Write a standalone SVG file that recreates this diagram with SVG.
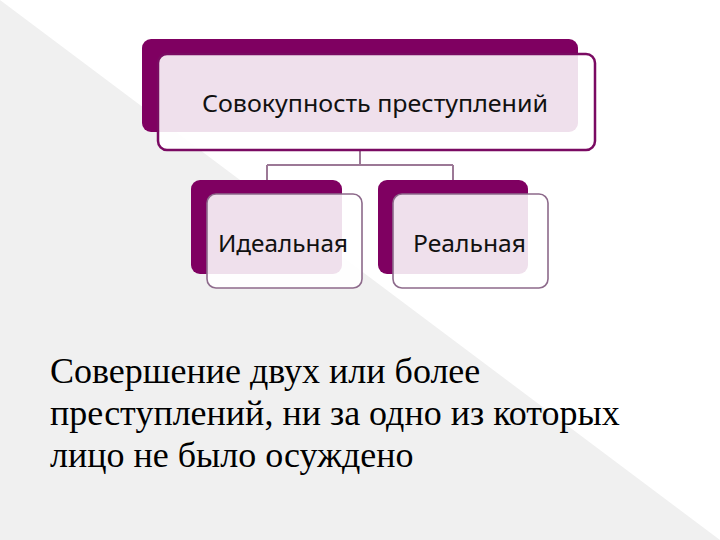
<svg xmlns="http://www.w3.org/2000/svg" width="720" height="540" viewBox="0 0 720 540">
<defs>
<style>
.back{fill:#7f0061}
.front{fill:#ffffff;fill-opacity:0.88}
.top{stroke:#7a0a62;stroke-width:2.5}
.small{stroke:#8d6a8b;stroke-width:1.6}
.lbl{font-family:"Noto Sans","DejaVu Sans",sans-serif;font-size:24px;fill:#111}
.body{font-family:"Liberation Serif","Times New Roman",serif;font-size:36px;fill:#000}
.conn{stroke:#9c7896;stroke-width:2;fill:none}
</style>
</defs>
<rect width="720" height="540" fill="#ffffff"/>
<polygon points="0,0 720,540 0,540" fill="#f0f0f0"/>
<g id="connectors">
<path class="conn" d="M360,150 V165 M267,165 H453 M267,165 V180 M453,165 V180"/>
</g>
<g id="node-top">
<rect class="back" x="142" y="39" width="436" height="93" rx="9"/>
<rect class="front top" x="158" y="54" width="437" height="96" rx="9"/>
<text class="lbl" x="202" y="112" textLength="346" lengthAdjust="spacingAndGlyphs">Совокупность преступлений</text>
</g>
<g id="node-ideal">
<rect class="back" x="191" y="180" width="151" height="94" rx="9"/>
<rect class="front small" x="207" y="194" width="155" height="94" rx="9"/>
<text class="lbl" x="218" y="252" textLength="130" lengthAdjust="spacingAndGlyphs">Идеальная</text>
</g>
<g id="node-real">
<rect class="back" x="378" y="180" width="150" height="94" rx="9"/>
<rect class="front small" x="393" y="194" width="155" height="94" rx="9"/>
<text class="lbl" x="413" y="252" textLength="113" lengthAdjust="spacingAndGlyphs">Реальная</text>
</g>
<g id="description">
<text class="body" x="50" y="383">Совершение двух или более</text>
<text class="body" x="50" y="425">преступлений, ни за одно из которых</text>
<text class="body" x="50" y="467">лицо не было осуждено</text>
</g>
</svg>
